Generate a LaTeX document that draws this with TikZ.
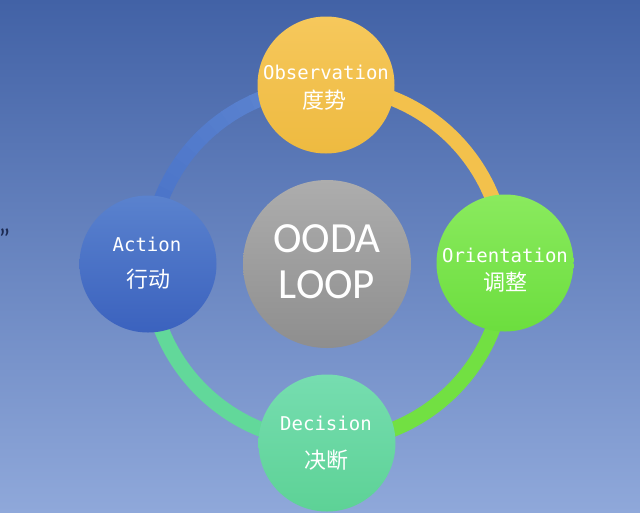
\documentclass[tikz,border=0pt]{standalone}
\usepackage{fontspec}
\usetikzlibrary{calc}
\newfontfamily\cjkfont{Noto Sans CJK SC}
\newfontfamily\monofnt{DejaVu Sans Mono}
\newfontfamily\carlitofnt{Carlito}
\definecolor{bgtop}{HTML}{4262A6}
\definecolor{bgbot}{HTML}{8FA8DA}
\definecolor{ringY}{HTML}{F3C14C}
\definecolor{ringG}{HTML}{72E042}
\definecolor{ringT}{HTML}{62D89A}
\definecolor{ringBa}{HTML}{4670C6}
\definecolor{ringBb}{HTML}{6087D2}
\definecolor{coreT}{HTML}{ADADAD}
\definecolor{coreB}{HTML}{8E8E8E}
\definecolor{obsT}{HTML}{F6C85C}
\definecolor{obsB}{HTML}{EEBA40}
\definecolor{actT}{HTML}{5A82CE}
\definecolor{actB}{HTML}{3B62BE}
\definecolor{oriT}{HTML}{8AEA5E}
\definecolor{oriB}{HTML}{6CDE3E}
\definecolor{decT}{HTML}{76DDB0}
\definecolor{decB}{HTML}{5DD296}
\definecolor{quoteC}{HTML}{1C2A52}
\tikzset{
  bubble/.style={circle, minimum size=137pt, inner sep=0pt},
  ringseg/.style={line width=15pt, line cap=butt},
  engl/.style={text=white, font=\monofnt\fontsize{19}{19}\selectfont, inner sep=0pt},
  chin/.style={text=white, font=\cjkfont\fontsize{22}{22}\selectfont, inner sep=0pt},
  bigt/.style={text=white, font=\carlitofnt\fontsize{43}{43}\selectfont, inner sep=0pt, anchor=base},
}
\begin{document}
\begin{tikzpicture}[x=1pt,y=-1pt]
\useasboundingbox (0,0) rectangle (640,512);
\shade[top color=bgtop, bottom color=bgbot] (0,0) rectangle (640,512);
\coordinate (C) at (327,264);
% ring
\foreach \i in {0,...,17}{
  \pgfmathsetmacro\pct{100-\i*100/17}
  \pgfmathsetmacro\sa{180+\i*5}
  \pgfmathsetmacro\ea{180+(\i+1)*5+0.5}
  \draw[ringseg, color=ringBa!\pct!ringBb] ($(C)+(\sa:178)$) arc[start angle=\sa, end angle=\ea, radius=178];
}
\draw[ringseg, ringY] ($(C)+(270:178)$) arc[start angle=270, end angle=360, radius=178];
\draw[ringseg, ringG] ($(C)+(0:178)$) arc[start angle=0, end angle=90, radius=178];
\draw[ringseg, ringT] ($(C)+(90:178)$) arc[start angle=90, end angle=180, radius=178];
% center
\node[circle, minimum size=168pt, inner sep=0pt, top color=coreT, bottom color=coreB] (core) at (C) {};
\node[bigt] (ooda) at (327,252) {OODA};
\node[bigt] (loop) at (327,298) {LOOP};
% bubbles
\node[bubble, top color=obsT, bottom color=obsB] (obs) at (326,85) {};
\node[bubble, top color=actT, bottom color=actB] (act) at (148,264) {};
\node[bubble, top color=oriT, bottom color=oriB] (ori) at (505,263) {};
\node[bubble, top color=decT, bottom color=decB] (dec) at (327,443) {};
% texts
\node[engl] (obsE) at (326,72.5) {Observation};
\node[chin] (obsC) at (324,100) {度势};
\node[engl] (actE) at (147,244) {Action};
\node[chin] (actC) at (148,279) {行动};
\node[engl] (oriE) at (505,255) {Orientation};
\node[chin] (oriC) at (505,282) {调整};
\node[engl] (decE) at (326,423.5) {Decision};
\node[chin] (decC) at (326,460) {决断};
\node[text=quoteC, font=\carlitofnt\fontsize{28}{28}\selectfont, inner sep=0pt, anchor=base west] (quote) at (-1.5,248) {”};
\end{tikzpicture}
\end{document}
